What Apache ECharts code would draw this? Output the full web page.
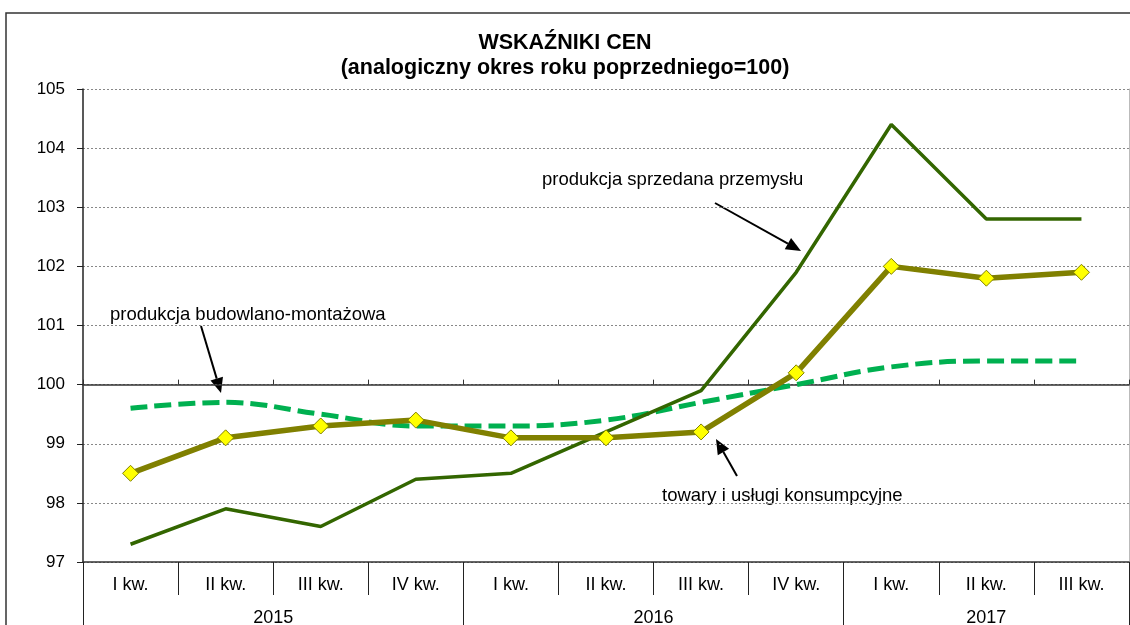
<!DOCTYPE html>
<html>
<head>
<meta charset="utf-8">
<script src="https://cdn.jsdelivr.net/npm/echarts@6/dist/echarts.min.js"></script>
<style>
	html, body { margin: 0; padding: 0; background: #fff; }
	#main { width: 1130px; height: 625px; }
</style>
</head>
<body>
<div id="main"></div>
<script>
	"use strict";
	// DATA
	var quarters = ['I kw.', 'II kw.', 'III kw.', 'IV kw.', 'I kw.', 'II kw.', 'III kw.', 'IV kw.', 'I kw.', 'II kw.', 'III kw.'];
	var years = ['2015', '2016', '2017'];
	var yearSpans = [4, 4, 3];
	var przemysl = [97.3, 97.9, 97.6, 98.4, 98.5, 99.2, 99.9, 101.9, 104.4, 102.8, 102.8];
	var towary = [98.5, 99.1, 99.3, 99.4, 99.1, 99.1, 99.2, 100.2, 102.0, 101.8, 101.9];
	var budowlano = [99.6, 99.7, 99.5, 99.3, 99.3, 99.4, 99.7, 100.0, 100.3, 100.4, 100.4];
	var yMin = 97, yMax = 105, yStep = 1, baseLine = 100;

	var font = 'Liberation Sans, Arial, sans-serif';
	var gridTop = 89, gridBottom = 63, gridLeft = 83, gridRight = 1;
	var plotH = 625 - gridTop - gridBottom;

	// year group boundaries and label centres (in category index units)
	var yearTicks = [-0.5], yearLabels = [], acc = -0.5;
	for (var i = 0; i < years.length; i++) {
		yearLabels.push(acc + yearSpans[i] / 2);
		acc += yearSpans[i];
		yearTicks.push(acc);
	}

	function arrow(x1, y1, x2, y2) {
		var a = Math.atan2(y2 - y1, x2 - x1), len = 15, w = 6.5;
		var bx = x2 - len * Math.cos(a), by = y2 - len * Math.sin(a);
		return {
			type: 'group',
			children: [{
				type: 'line',
				shape: { x1: x1, y1: y1, x2: bx, y2: by },
				style: { stroke: '#000', lineWidth: 2 }
			}, {
				type: 'polygon',
				shape: { points: [[x2, y2], [bx + w * Math.sin(a), by - w * Math.cos(a)], [bx - w * Math.sin(a), by + w * Math.cos(a)]] },
				style: { fill: '#000' }
			}]
		};
	}

	function note(x, y, text) {
		return {
			type: 'text', left: x, top: y,
			style: { text: text, font: '18.5px ' + font, fill: '#000' }
		};
	}

	var chart = echarts.init(document.getElementById('main'));
	var option = {
		animation: false,
		backgroundColor: '#fff',
		title: {
			text: 'WSKAŹNIKI CEN\n(analogiczny okres roku poprzedniego=100)',
			left: 'center',
			top: 26,
			textStyle: { fontFamily: font, fontSize: 21.5, fontWeight: 'bold', color: '#000', lineHeight: 25 }
		},
		grid: { left: gridLeft, right: gridRight, top: gridTop, bottom: gridBottom, outerBoundsMode: 'none', containLabel: false },
		xAxis: [{
			type: 'category',
			data: quarters,
			position: 'bottom',
			boundaryGap: true,
			axisLine: { lineStyle: { color: '#333', width: 1.5 } },
			axisTick: { show: true, interval: 0, length: 33, lineStyle: { color: '#222' } },
			axisLabel: { interval: 0, margin: 14, fontFamily: font, fontSize: 18, color: '#000' },
			splitLine: { show: false }
		}, {
			type: 'value',
			position: 'bottom',
			min: -0.5,
			max: quarters.length - 0.5,
			axisLine: { show: false },
			axisTick: { show: true, customValues: yearTicks, length: 64, lineStyle: { color: '#222' } },
			axisLabel: {
				customValues: yearLabels, margin: 47, fontFamily: font, fontSize: 18, color: '#000',
				formatter: function(v) {
					for (var k = 0; k < yearLabels.length; k++) {
						if (Math.abs(yearLabels[k] - v) < 1e-6) return years[k];
					}
					return '';
				}
			},
			splitLine: { show: false }
		}, {
			// horizontal axis crossing at 100
			type: 'category',
			data: quarters,
			position: 'bottom',
			offset: -plotH * (baseLine - yMin) / (yMax - yMin),
			axisLine: { lineStyle: { color: '#333', width: 1.5 } },
			axisTick: { show: true, inside: true, interval: 0, length: 5, lineStyle: { color: '#333' } },
			axisLabel: { show: false },
			splitLine: { show: false }
		}],
		yAxis: [{
			type: 'value',
			min: yMin,
			max: yMax,
			interval: yStep,
			axisLine: { show: true, onZero: false, lineStyle: { color: '#222', width: 1.5 } },
			axisTick: { show: true, length: 6, lineStyle: { color: '#222' } },
			axisLabel: { margin: 18, fontFamily: font, fontSize: 17, color: '#000' },
			splitLine: { show: true, lineStyle: { color: '#888', width: 1, type: [2, 2] } }
		}, {
			type: 'value',
			position: 'right',
			min: yMin,
			max: yMax,
			interval: yStep,
			axisLine: { show: true, onZero: false, lineStyle: { color: '#bbb', width: 1 } },
			axisTick: { show: false },
			axisLabel: { show: false },
			splitLine: { show: false }
		}],
		series: [{
			name: 'produkcja budowlano-montażowa',
			type: 'line',
			data: budowlano,
			smooth: 0.4,
			symbol: 'none',
			lineStyle: { color: '#00b050', width: 5, type: [17, 7] },
			z: 2
		}, {
			name: 'produkcja sprzedana przemysłu',
			type: 'line',
			data: przemysl,
			symbol: 'none',
			lineStyle: { color: '#336600', width: 3.5 },
			z: 3
		}, {
			name: 'towary i usługi konsumpcyjne',
			type: 'line',
			data: towary,
			symbol: 'diamond',
			symbolSize: 16,
			itemStyle: { color: '#ffff00', borderColor: '#808000', borderWidth: 1 },
			lineStyle: { color: '#808000', width: 5.5 },
			z: 4
		}],
		graphic: [{
			type: 'rect',
			shape: { x: 6, y: 13, width: 1300, height: 800 },
			style: { fill: 'none', stroke: '#333', lineWidth: 1.5 },
			silent: true
		},
			note(542, 170, 'produkcja sprzedana przemysłu'),
			note(110, 305, 'produkcja budowlano-montażowa'),
			note(662, 486, 'towary i usługi konsumpcyjne'),
			arrow(715, 203, 801, 251),
			arrow(201, 326, 221, 393),
			arrow(737, 476, 716, 439)
		]
	};
	chart.setOption(option);
</script>
</body>
</html>
